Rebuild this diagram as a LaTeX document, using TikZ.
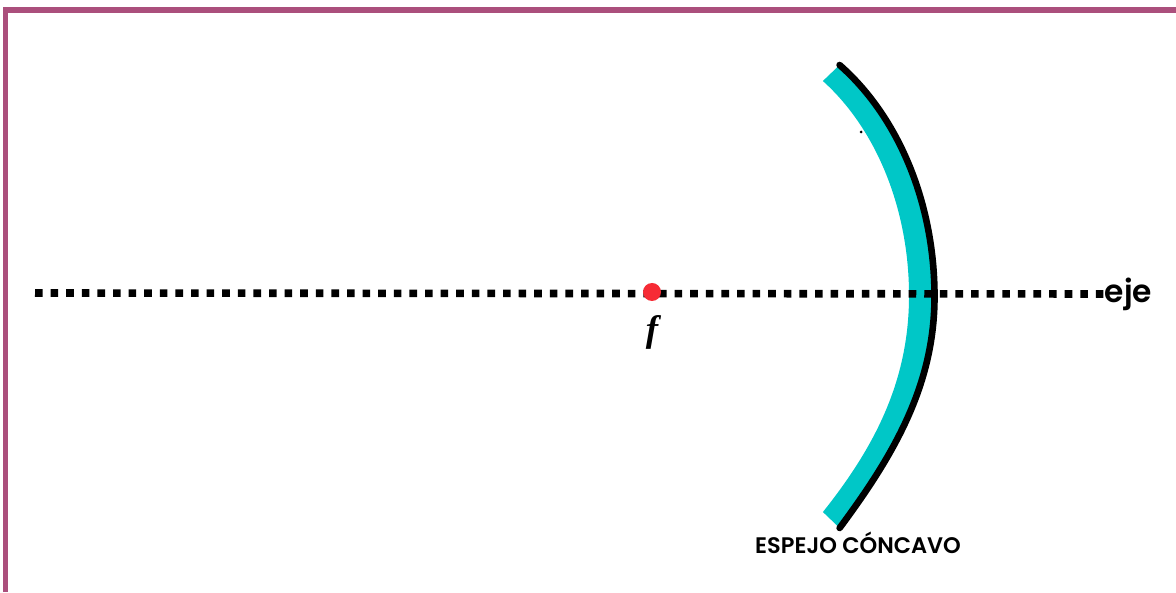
\documentclass[tikz,border=0pt]{standalone}
\usepackage{fontspec}
\usetikzlibrary{positioning}
\setmainfont{Poppins}[BoldFont={Poppins SemiBold}]
\newfontfamily\focusfont{Liberation Serif}
\definecolor{framepink}{HTML}{AB4F7C}
\definecolor{mirrorteal}{HTML}{00C7C7}
\definecolor{focusred}{HTML}{F62B35}
\tikzset{
  axisline/.style={line width=0.076cm, dash pattern=on 0.076cm off 0.08cm},
  mirrorband/.style={fill=mirrorteal},
  mirrorback/.style={black, line width=0.066cm, line cap=round},
  smalllabel/.style={inner sep=0pt, font=\bfseries\fontsize{6.4}{7}\selectfont},
  axislabel/.style={inner sep=0pt, font=\bfseries\fontsize{8.9}{10}\selectfont}
}
\begin{document}
\begin{tikzpicture}
    \useasboundingbox (0,0) rectangle (11.76,5.92);
    \fill[white] (0,0) rectangle (11.76,5.92);
    % frame, open at the right and at the bottom
    \draw[framepink, line width=0.058cm] (0.055,0) -- (0.055,5.82) -- (11.76,5.82);
    % axis
    \coordinate (axisstart) at (0.35,2.99);
    \node[axislabel, anchor=west] (eje) at (11.04,2.98) {eje};
    % mirror
    \coordinate (outerapex) at (9.345,2.955);
    \coordinate (innerapex) at (9.09,2.955);
    \coordinate (outerbottom) at (8.396,0.64);
    \coordinate (innerbottom) at (8.229,0.80);
    \path[mirrorband] (outerbottom) .. controls (8.93,1.36) and (9.345,2.06) .. (outerapex)
      arc[start angle=0, end angle=55.77, x radius=2.17, y radius=2.80]
      -- ++(-0.167,-0.16)
      arc[start angle=55.6, end angle=0, x radius=1.98, y radius=2.60]
      .. controls (9.09,2.12) and (8.755,1.46) .. (innerbottom) -- cycle;
    \draw[axisline] (axisstart) -- (eje.west);
    \draw[mirrorback] (outerbottom) .. controls (8.93,1.36) and (9.345,2.06) .. (outerapex)
      arc[start angle=0, end angle=55.77, x radius=2.17, y radius=2.80];
    \fill (8.61,4.6) circle (0.015);
    % focus
    \node[circle, fill=focusred, minimum size=0.18cm, inner sep=0pt] (focus) at (6.52,3.0) {};
    \node[below=0.13cm of focus, inner sep=0pt, font=\focusfont\bfseries\itshape\fontsize{10.5}{12}\selectfont] (flabel) {f};
    \node[smalllabel] (mirrorlabel) at (8.58,0.49) {ESPEJO CÓNCAVO};
\end{tikzpicture}
\end{document}
